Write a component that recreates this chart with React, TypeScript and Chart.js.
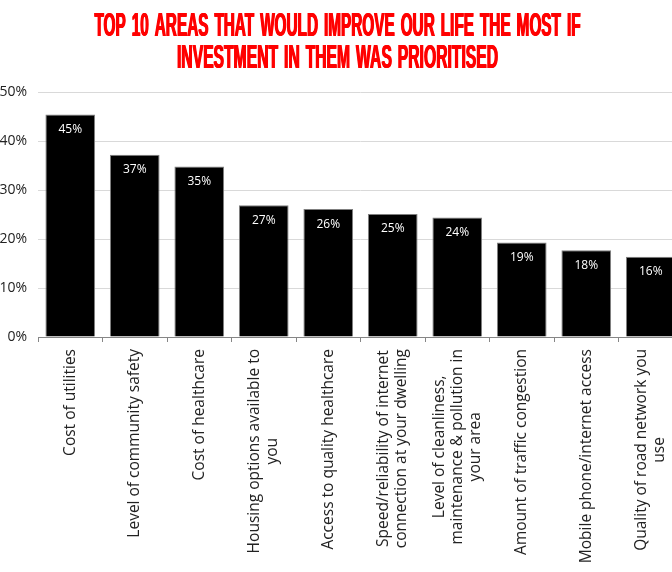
import React, { useEffect, useRef } from "react";
import { Chart, registerables } from "chart.js";

Chart.register(...registerables);

const titleLines = [
  "TOP 10 AREAS THAT WOULD IMPROVE OUR LIFE THE MOST IF",
  "INVESTMENT IN THEM WAS PRIORITISED",
];

const categories: string[][] = [
  ["Cost of utilities"],
  ["Level of community safety"],
  ["Cost of healthcare"],
  ["Housing options available to", "you"],
  ["Access to quality healthcare"],
  ["Speed/reliability of internet", "connection at your dwelling"],
  ["Level of cleanliness,", "maintenance & pollution in", "your area"],
  ["Amount of traffic congestion"],
  ["Mobile phone/internet access"],
  ["Quality of road network you", "use"],
];

const values = [45.4, 37.2, 34.8, 26.9, 26.1, 25.1, 24.4, 19.3, 17.7, 16.4];

const yMin = 0;
const yMax = 50;
const yStep = 10;

const OFFSET_X = 10; // canvas starts 10px left of the page

const titlePlugin = {
  id: "titlePlugin",
  afterDraw(chart: any) {
    const ctx = chart.ctx;
    const targets = [
      { w: 487, y: 36 },
      { w: 322, y: 68 },
    ];
    const cx = 337.5 + OFFSET_X;
    const gap = 6;
    const smear = [-0.5, 0, 0.5];
    ctx.save();
    ctx.font = 'bold 33px "Liberation Sans"';
    ctx.fillStyle = "#ff0000";
    ctx.textAlign = "left";
    ctx.textBaseline = "alphabetic";
    titleLines.forEach((line, i) => {
      const t = targets[i];
      const words = line.split(" ");
      const widths = words.map((w) => ctx.measureText(w).width);
      const sum = widths.reduce((a, b) => a + b, 0);
      const sx = (t.w - 1 - gap * (words.length - 1)) / sum;
      let x = cx - t.w / 2 + 0.5;
      words.forEach((w, k) => {
        smear.forEach((dx) => {
          ctx.save();
          ctx.translate(x + dx, t.y);
          ctx.scale(sx, 1);
          ctx.fillText(w, 0, 0);
          ctx.restore();
        });
        x += widths[k] * sx + gap;
      });
    });
    ctx.restore();
  },
};

const xLabelPlugin = {
  id: "xLabelPlugin",
  afterDraw(chart: any) {
    const ctx = chart.ctx;
    const xs = chart.scales.x;
    ctx.save();
    ctx.font = '15.5px "Open Sans"';
    ctx.fillStyle = "#222222";
    ctx.textAlign = "center";
    ctx.textBaseline = "middle";
    categories.forEach((lines, i) => {
      const cx = xs.getPixelForValue(i);
      const maxW = Math.max(...lines.map((l) => ctx.measureText(l).width));
      const top = xs.top + 12;
      ctx.save();
      ctx.translate(cx, top + maxW / 2);
      ctx.rotate(-Math.PI / 2);
      lines.forEach((l, j) => {
        ctx.fillText(l, 0, (j - (lines.length - 1) / 2) * 18);
      });
      ctx.restore();
    });
    ctx.restore();
  },
};

const dataLabelPlugin = {
  id: "dataLabelPlugin",
  afterDatasetsDraw(chart: any) {
    const ctx = chart.ctx;
    const meta = chart.getDatasetMeta(0);
    ctx.save();
    ctx.font = '12px "Open Sans"';
    ctx.fillStyle = "#ffffff";
    ctx.textAlign = "center";
    ctx.textBaseline = "middle";
    meta.data.forEach((bar: any, i: number) => {
      ctx.fillText(Math.round(values[i]) + "%", bar.x, bar.y + 15);
    });
    ctx.restore();
  },
};

export default function App() {
  const canvasRef = useRef<HTMLCanvasElement | null>(null);

  useEffect(() => {
    if (!canvasRef.current) return;
    const chart = new Chart(canvasRef.current, {
      type: "bar",
      data: {
        labels: categories.map((c) => c.join(" ")),
        datasets: [
          {
            data: values,
            backgroundColor: "#000000",
            borderColor: "#7f7f7f",
            borderWidth: 1,
            categoryPercentage: 1,
            barPercentage: 0.77,
          },
        ],
      },
      options: {
        responsive: false,
        animation: false,
        layout: { padding: { top: 92, left: 0, right: 0, bottom: 0 } },
        plugins: {
          legend: { display: false },
          tooltip: { enabled: false },
          title: { display: false },
        },
        scales: {
          x: {
            ticks: { display: false },
            grid: {
              display: true,
              drawOnChartArea: false,
              drawTicks: true,
              tickLength: 5,
              color: "#868686",
              offset: true,
            },
            border: { display: true, color: "#868686", width: 1 },
            afterFit(scale: any) {
              scale.height = 235;
            },
          },
          y: {
            min: yMin,
            max: yMax,
            ticks: {
              stepSize: yStep,
              padding: 11,
              color: "#222222",
              font: { family: "Open Sans", size: 14 },
              callback: (v: any) => v + "%",
            },
            grid: { color: "#d9d9d9", drawTicks: false },
            border: { display: false },
            afterFit(scale: any) {
              scale.width = 48;
            },
          },
        },
      },
      plugins: [dataLabelPlugin, xLabelPlugin, titlePlugin],
    });
    return () => chart.destroy();
  }, []);

  return (
    <div
      style={{
        position: "fixed",
        left: 0,
        top: 0,
        width: 672,
        height: 572,
        overflow: "hidden",
        background: "#ffffff",
      }}
    >
      <canvas
        ref={canvasRef}
        width={683 + OFFSET_X}
        height={572}
        style={{ position: "absolute", left: -OFFSET_X, top: 0 }}
      />
    </div>
  );
}
